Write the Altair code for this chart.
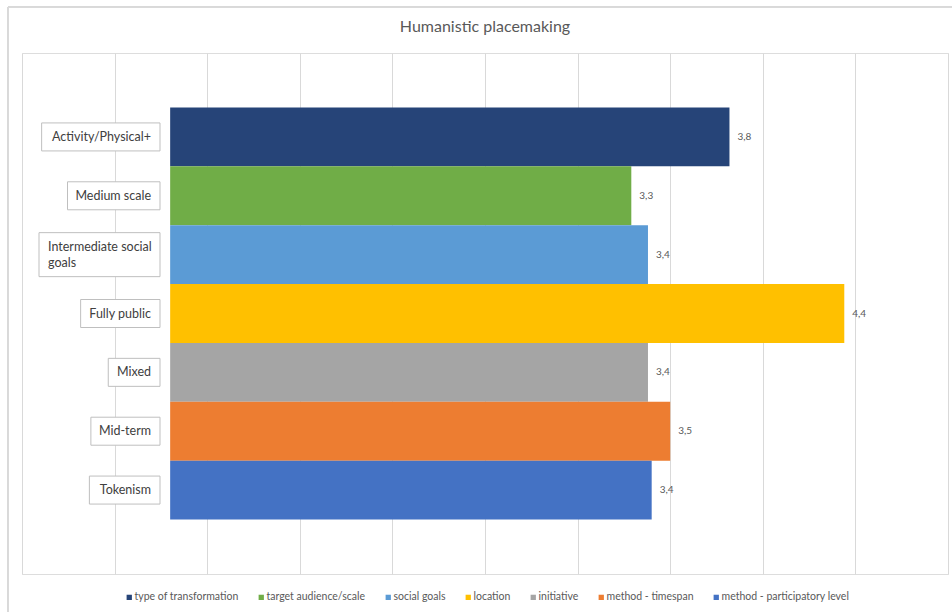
import altair as alt
import pandas as pd

# ---- data ----
categories = [
    "Activity/Physical+",
    "Medium scale",
    "Intermediate social\ngoals",
    "Fully public",
    "Mixed",
    "Mid-term",
    "Tokenism",
]
series = [
    "type of transformation",
    "target audience/scale",
    "social goals",
    "location",
    "initiative",
    "method - timespan",
    "method - participatory level",
]
values = [3.82, 3.29, 3.38, 4.44, 3.38, 3.50, 3.40]
bar_start = 0.8  # where the bars begin on the value axis

# ---- styles ----
colors = ["#264478", "#70AD47", "#5B9BD5", "#FFC000", "#A5A5A5", "#ED7D31", "#4472C4"]
FONT = "Lato"
W, H = 926, 521
X_MAX = 5.0
PPU = W / X_MAX  # pixels per value unit
BOX_RIGHT_PX = 138  # right edge of label boxes, measured from plot left
PAD = 9
LABEL_FS = 12.5

# rough per-character advance widths (em) used to size the label boxes
CW = {
    "a": .51, "b": .56, "c": .46, "d": .56, "e": .52, "f": .32, "g": .51, "h": .56,
    "i": .24, "j": .24, "k": .50, "l": .24, "m": .85, "n": .56, "o": .56, "p": .56,
    "q": .56, "r": .36, "s": .42, "t": .35, "u": .56, "v": .52, "w": .78, "x": .50,
    "y": .52, "z": .45, " ": .20, "/": .50, "-": .33, "+": .62, "A": .70, "F": .53,
    "I": .27, "M": .88, "P": .58, "T": .56,
}


def est_width(s, fs=LABEL_FS):
    return sum(CW.get(ch, .55) for ch in s) * fs


df = pd.DataFrame({"category": categories, "series": series, "value": values})
df["base"] = bar_start
lines = [c.split("\n") for c in categories]
box_w = [max(est_width(l) for l in ls) + 2 * PAD for ls in lines]
df["nlines"] = [len(ls) for ls in lines]
df["box_x2"] = BOX_RIGHT_PX / PPU
df["box_x"] = [(BOX_RIGHT_PX - w) / PPU for w in box_w]
df["text_l"] = [(BOX_RIGHT_PX - w + PAD) / PPU for w in box_w]
df["text_r"] = (BOX_RIGHT_PX - PAD) / PPU
df["box_h"] = [28 + 16 * (n - 1) for n in df["nlines"]]

y_enc = alt.Y(
    "category:N",
    sort=categories,
    axis=None,
    scale=alt.Scale(paddingInner=0, paddingOuter=0.926),
)
x_scale = alt.Scale(domain=[0, X_MAX], nice=False, zero=True)

base = alt.Chart(df)

bars = base.mark_bar().encode(
    y=y_enc,
    x=alt.X(
        "value:Q",
        scale=x_scale,
        axis=alt.Axis(
            values=[i * 0.5 for i in range(11)],
            labels=False,
            ticks=False,
            domain=False,
            title=None,
            grid=True,
            gridColor="#D9D9D9",
            gridWidth=1,
        ),
    ),
    x2="base:Q",
    color=alt.Color(
        "series:N",
        sort=series,
        scale=alt.Scale(domain=series, range=colors),
        legend=alt.Legend(
            title=None,
            orient="none",
            direction="horizontal",
            legendX=102,
            legendY=539,
            symbolType="square",
            symbolSize=28,
            symbolStrokeWidth=0,
            labelFontSize=10.5,
            labelFont=FONT,
            labelColor="#595959",
            columnPadding=17,
            labelOffset=0,
        ),
    ),
)

value_text = (
    base.transform_calculate(lbl="replace(format(datum.value, '.1f'), '.', ',')")
    .mark_text(align="left", baseline="middle", dx=8, fontSize=10, font=FONT, color="#595959")
    .encode(y=y_enc, x=alt.X("value:Q", scale=x_scale), text="lbl:N")
)

boxes = base.mark_bar(fill="white", stroke="#BFBFBF", strokeWidth=1).encode(
    y=y_enc,
    x=alt.X("box_x:Q", scale=x_scale),
    x2="box_x2:Q",
    size=alt.Size("box_h:Q", scale=None, legend=None),
)

box_text_single = (
    base.transform_filter("datum.nlines == 1")
    .mark_text(align="right", baseline="middle", fontSize=LABEL_FS, font=FONT, color="#404040")
    .encode(y=y_enc, x=alt.X("text_r:Q", scale=x_scale), text="category:N")
)

box_text_multi = (
    base.transform_filter("datum.nlines > 1")
    .mark_text(
        align="left", baseline="middle", fontSize=LABEL_FS, font=FONT, color="#404040",
        lineBreak="\n", lineHeight=16, dy=-8,
    )
    .encode(y=y_enc, x=alt.X("text_l:Q", scale=x_scale), text="category:N")
)

frame = alt.Chart(df).mark_rect(fill=None, stroke="#D9D9D9", strokeWidth=1).encode(
    x=alt.value(-14), x2=alt.value(W + 20), y=alt.value(-46), y2=alt.value(H + 60)
)

chart = (
    alt.layer(frame, bars, value_text, boxes, box_text_single, box_text_multi)
    .properties(
        width=W,
        height=H,
        autosize=alt.AutoSizeParams(type="none"),
        padding={"left": 22, "top": 53, "right": 4, "bottom": 38},
        title=alt.TitleParams(
            "Humanistic placemaking",
            fontSize=16,
            font=FONT,
            fontWeight="normal",
            color="#595959",
            anchor="middle",
            baseline="bottom",
            offset=-44,
        ),
    )
    .configure_view(strokeWidth=0)
    .configure(background="white")
)

chart.save("out.html", embed_options={"renderer": "svg", "actions": False})
